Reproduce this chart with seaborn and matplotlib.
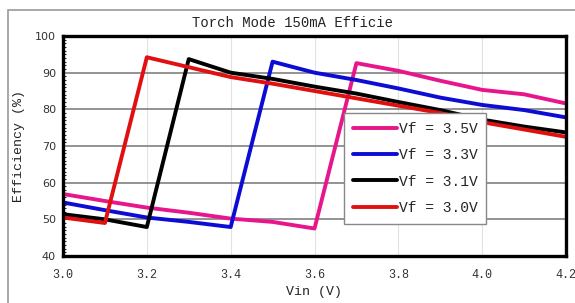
import pandas as pd
import numpy as np
import matplotlib
matplotlib.use("Agg")
import matplotlib.pyplot as plt
from matplotlib.patches import Rectangle
from matplotlib.ticker import MultipleLocator
import seaborn as sns

# Data
vin = [3.0, 3.1, 3.2, 3.3, 3.4, 3.5, 3.6, 3.7, 3.8, 3.9, 4.0, 4.1, 4.2]
eff_35 = [56.9, 55.0, 53.2, 51.8, 50.2, 49.3, 47.5, 92.6, 90.5, 87.8, 85.3, 84.1, 81.6]
eff_33 = [54.6, 52.5, 50.5, 49.3, 47.9, 93.0, 90.0, 88.0, 85.7, 83.2, 81.2, 79.8, 77.8]
eff_31 = [51.4, 50.0, 47.9, 93.7, 90.0, 88.3, 86.2, 84.3, 82.0, 79.8, 77.2, 75.3, 73.7]
eff_30 = [50.5, 49.0, 94.2, 91.5, 88.8, 87.0, 85.0, 83.0, 81.0, 79.0, 76.5, 74.5, 72.5]

labels = ["Vf = 3.5V", "Vf = 3.3V", "Vf = 3.1V", "Vf = 3.0V"]
colors = ["#E8168C", "#0C0CD4", "#000000", "#E01010"]

df = pd.concat([
    pd.DataFrame({"Vin": vin, "Eff": eff_35, "Series": labels[0]}),
    pd.DataFrame({"Vin": vin, "Eff": eff_33, "Series": labels[1]}),
    pd.DataFrame({"Vin": vin, "Eff": eff_31, "Series": labels[2]}),
    pd.DataFrame({"Vin": vin, "Eff": eff_30, "Series": labels[3]}),
])

sns.set_style("white")
mono = ["Liberation Mono", "DejaVu Sans Mono"]

fig = plt.figure(figsize=(5.75, 3.03), dpi=100)
ax = fig.add_axes([63 / 575, 1 - 256 / 303, (566 - 63) / 575, (256 - 36) / 303])

# outer frame (cut off at right and bottom)
fig.patches.append(Rectangle((8 / 575, -0.2), 1.2, 1.2 - 10 / 303,
                             transform=fig.transFigure, fill=False,
                             edgecolor="#9a9a9a", linewidth=1.2, clip_on=False))

sns.lineplot(data=df, x="Vin", y="Eff", hue="Series", palette=colors,
             hue_order=labels, linewidth=2.8, ax=ax, sort=False)

ax.set_xlim(3.0, 4.2)
ax.set_ylim(40, 100)
ax.set_xticks(np.round(np.arange(3.0, 4.21, 0.2), 1))
ax.set_yticks(range(40, 101, 10))
ax.yaxis.set_minor_locator(MultipleLocator(1))
ax.grid(axis="y", which="major", color="#808080", linewidth=1.2)
ax.grid(axis="x", which="major", color="#e2e2e2", linewidth=0.8)
ax.set_axisbelow(True)

for s in ax.spines.values():
    s.set_linewidth(2.4)
    s.set_color("black")

ax.tick_params(axis="y", which="major", direction="out", length=4, width=1,
               labelsize=8, colors="#333333", pad=1)
ax.tick_params(axis="y", which="minor", direction="in", length=2, width=0.8, left=True)
ax.tick_params(axis="x", which="major", length=0, labelsize=8.5, colors="#333333", pad=9)
for t in ax.get_xticklabels():
    t.set_family(mono)

ax.set_xlabel("Vin (V)", family=mono, fontsize=9.5, labelpad=4, color="#222222")
ax.set_ylabel("Efficiency (%)", family=mono, fontsize=9.5, labelpad=7, color="#222222")
fig.text(293 / 575, 1 - 23 / 303, "Torch Mode 150mA Efficie", family=mono,
         fontsize=10, ha="center", va="center", color="#222222")

leg = ax.legend(loc="upper left", bbox_to_anchor=(0.559, 0.65), prop={"family": mono, "size": 10.5},
                handlelength=3.0, handletextpad=0.15, borderpad=0.6, labelspacing=0.85,
                frameon=True, fancybox=False, framealpha=1, edgecolor="#888888",
                borderaxespad=0)
leg.get_frame().set_linewidth(1.0)
for line in leg.get_lines():
    line.set_linewidth(2.8)

fig.savefig("out.png", dpi=100)
